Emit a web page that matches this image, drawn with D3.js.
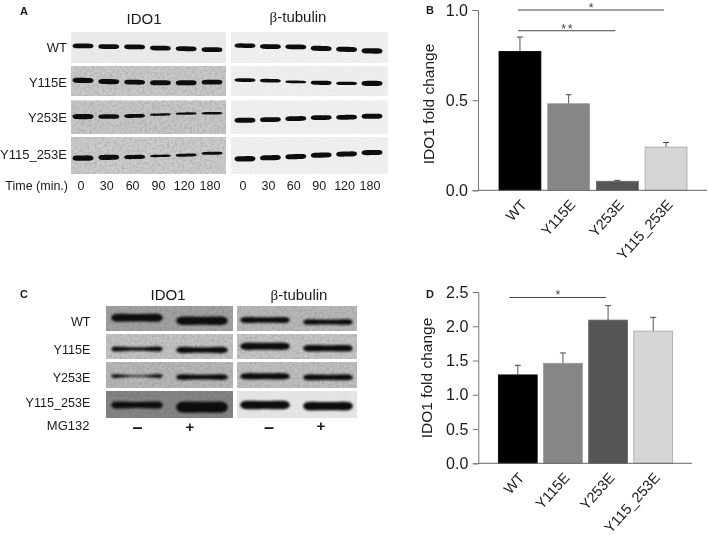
<!DOCTYPE html>
<html>
  <head>
    <meta charset="UTF-8">
    <title>IDO1 fold change</title>
    <script src="https://d3js.org/d3.v7.min.js"></script>
    <style>
      body { margin: 0; background: #fff; }
      svg { filter: blur(0.3px); }
      text { font-family: "Liberation Sans", Arial, sans-serif; fill: #1a1a1a; }
    </style>
  </head>
  <body>
    <svg id="fig" width="709" height="535" viewBox="0 0 709 535"></svg>
    <script>
      // Bar chart data
      const mutants = ["WT", "Y115E", "Y253E", "Y115_253E"];
      const valuesB = [0.77, 0.48, 0.05, 0.24];
      const errorsB = [0.08, 0.05, 0.005, 0.025];
      const valuesD = [1.29, 1.46, 2.09, 1.93];
      const errorsD = [0.14, 0.15, 0.21, 0.20];
      const ticksB = [0, 0.5, 1];
      const ticksD = [0, 0.5, 1, 1.5, 2, 2.5];
      const sigB = [["WT", "Y115_253E", 1.0, "*"], ["WT", "Y253E", 0.885, "**"]];
      const sigD = [["WT", "Y253E", 2.42, "*"]];

      // Blot A: lanes by time, band density and migration (fraction of the strip) per mutant
      const times = ["0", "30", "60", "90", "120", "180"];
      const densityA1 = [
        [.8, .8, .8, .8, .8, .8],
        [.85, .85, .8, .85, .85, .8],
        [.85, .75, .65, .4, .4, .4],
        [.9, .85, .7, .4, .5, .5]
      ];
      const migrationA1 = [
        [.45, .47, .48, .52, .54, .57],
        [.48, .52, .54, .56, .56, .54],
        [.48, .48, .46, .42, .39, .38],
        [.57, .55, .54, .51, .49, .44]
      ];
      const densityA2 = [
        [.75, .8, .8, .85, .85, .9],
        [.6, .6, .45, .7, .55, .85],
        [.85, .8, .8, .8, .8, .85],
        [.9, .85, .85, .85, .85, .85]
      ];
      const migrationA2 = [
        [.44, .47, .48, .53, .56, .61],
        [.47, .49, .53, .56, .58, .58],
        [.59, .57, .54, .51, .5, .47],
        [.59, .56, .53, .49, .46, .42]
      ];
      const backA1 = ["#ebebeb", "#cacaca", "#c8c8c8", "#cdcdcd"];
      const backA2 = ["#f1f1f1", "#efefef", "#f0f0f0", "#f0f0f0"];

      // Blot C: minus and plus MG132, density at band ends and band centre
      const treatments = ["–", "+"];
      const edgeC1 = [[.75, .75], [.55, .6], [.45, .55], [.7, .95]];
      const centreC1 = [[.55, .6], [.25, .4], [.1, .35], [.45, .8]];
      const migrationC1 = [[.47, .59], [.6, .64], [.54, .58], [.52, .6]];
      const edgeC2 = [[.55, .55], [.65, .6], [.55, .55], [.75, .75]];
      const centreC2 = [[.4, .35], [.5, .45], [.45, .4], [.6, .6]];
      const migrationC2 = [[.56, .64], [.49, .57], [.55, .59], [.52, .56]];
      const backC1 = ["#a2a2a2", "#c4c4c4", "#b8b8b8", "#858585"];
      const backC2 = ["#b9b9b9", "#c6c6c6", "#c0c0c0", "#e6e6e6"];

      const barFills = ["#000000", "#868686", "#555555", "#d5d5d5"];
      const barStrokes = ["#000000", "#9a9a9a", "#666666", "#a5a5a5"];

      const svg = d3.select("#fig");
      const defs = svg.append("defs");

      // Film grain for the blot strips
      function grainFilter(id, amount) {
        const f = defs.append("filter").attr("id", id)
          .attr("x", 0).attr("y", 0).attr("width", 1).attr("height", 1)
          .attr("color-interpolation-filters", "sRGB");
        f.append("feTurbulence").attr("type", "fractalNoise").attr("baseFrequency", 0.4)
          .attr("numOctaves", 2).attr("seed", 4).attr("result", "n");
        f.append("feColorMatrix").attr("in", "n").attr("type", "matrix")
          .attr("values", `0 0 0 0 0.25  0 0 0 0 0.25  0 0 0 0 0.25  ${amount} 0 0 0 ${-amount * 0.36}`)
          .attr("result", "g");
        const m = f.append("feMerge");
        m.append("feMergeNode").attr("in", "SourceGraphic");
        m.append("feMergeNode").attr("in", "g");
      }
      grainFilter("grain", 0.4);
      grainFilter("grainLight", 0.08);
      defs.append("filter").attr("id", "soft")
        .append("feGaussianBlur").attr("stdDeviation", 0.5);
      defs.append("filter").attr("id", "softer")
        .attr("x", "-10%").attr("y", "-50%").attr("width", "120%").attr("height", "200%")
        .append("feGaussianBlur").attr("stdDeviation", 0.9);

      const bandArea = d3.area().x(d => d.x).y0(d => d.y0).y1(d => d.y1);
      const samples = d3.range(-1, 1.001, 0.05);

      // One column of blot strips
      function drawBlot(opt) {
        const g = svg.append("g");
        const lane = d3.scalePoint().domain(opt.lanes).range(opt.laneRange);
        const thick = d3.scaleLinear().domain([0, 1]).range([0, opt.maxThick]);

        opt.rows.forEach((row, r) => {
          const y = d3.scaleLinear().domain([0, 1]).range(row);
          g.append("rect")
            .attr("x", opt.x[0]).attr("y", row[0])
            .attr("width", opt.x[1] - opt.x[0]).attr("height", row[1] - row[0])
            .attr("fill", opt.back[r])
            .attr("filter", opt.back[r] > "#e00000" ? "url(#grainLight)" : "url(#grain)");

          opt.lanes.forEach((l, i) => {
            const m = opt.migration[r];
            const prev = y(m[Math.max(i - 1, 0)]), next = y(m[Math.min(i + 1, m.length - 1)]);
            const tilt = (next - prev) / (opt.laneStep * 2) * opt.bandHalf * 0.5;
            const edge = thick(opt.density[r][i]);
            const centre = opt.centre ? thick(opt.centre[r][i]) : edge;
            const pts = samples.map(t => {
              const h = (centre + (edge - centre) * t * t) / 2 * Math.sqrt(Math.max(1 - Math.pow(Math.abs(t), 6), 0));
              const yc = y(m[i]) + (opt.centre ? 0 : tilt * t);
              return { x: lane(l) + t * opt.bandHalf, y0: yc - h, y1: yc + h };
            });
            g.append("path").attr("d", bandArea(pts))
              .attr("fill", "#111").attr("filter", opt.centre ? "url(#softer)" : "url(#soft)");
          });
        });
        return lane;
      }

      const rowsA = [[32, 63], [66, 96], [100.5, 134], [137, 174]];
      const rowsC = [[306, 331], [334, 359], [362, 388], [391, 418]];

      const laneA1 = drawBlot({ lanes: times, laneRange: [83, 212], laneStep: 26, bandHalf: 10.5, maxThick: 6,
        x: [71, 226], rows: rowsA, back: backA1, density: densityA1, migration: migrationA1 });
      const laneA2 = drawBlot({ lanes: times, laneRange: [245, 372], laneStep: 25, bandHalf: 10.5, maxThick: 6,
        x: [231, 388], rows: rowsA, back: backA2, density: densityA2, migration: migrationA2 });
      drawBlot({ lanes: treatments, laneRange: [137, 202], laneStep: 65, bandHalf: 26, maxThick: 13.5,
        x: [106, 233], rows: rowsC, back: backC1, density: edgeC1, centre: centreC1, migration: migrationC1 });
      drawBlot({ lanes: treatments, laneRange: [265, 328], laneStep: 63, bandHalf: 25, maxThick: 13.5,
        x: [237, 357], rows: rowsC, back: backC2, density: edgeC2, centre: centreC2, migration: migrationC2 });

      // Labels around the blots
      function label(x, y, str, size, anchor, weight) {
        return svg.append("text").attr("x", x).attr("y", y).text(str)
          .attr("font-size", size).attr("text-anchor", anchor || "start")
          .attr("font-weight", weight || "normal");
      }
      function tubulinTitle(x, y) {
        const t = svg.append("text").attr("x", x).attr("y", y)
          .attr("font-size", 15).attr("text-anchor", "middle");
        t.append("tspan").style("font-family", "Liberation Serif").text("β");
        t.append("tspan").text("-tubulin");
      }

      label(20, 15, "A", 11, "start", "bold");
      label(426, 14, "B", 11, "start", "bold");
      label(20, 298, "C", 11, "start", "bold");
      label(426, 298, "D", 11, "start", "bold");

      label(144, 24, "IDO1", 15, "middle");
      tubulinTitle(298, 22);
      label(168, 300, "IDO1", 15, "middle");
      tubulinTitle(299, 300);

      const rowBaseA = [51.5, 87, 122, 158.5];
      mutants.forEach((m, i) => label(67, rowBaseA[i], m, 13, "end"));
      const rowBaseC = [326, 354, 381.5, 407];
      mutants.forEach((m, i) => label(90.5, rowBaseC[i], m, 12.6, "end"));

      label(68, 190, "Time (min.)", 12.5, "end");
      times.forEach(t => {
        label(laneA1(t) - 2, 190, t, 12.5, "middle");
        label(laneA2(t) - 2, 190, t, 12.5, "middle");
      });
      label(89.5, 430, "MG132", 13, "end");
      const signC1 = d3.scalePoint().domain(treatments).range([137.5, 190]);
      const signC2 = d3.scalePoint().domain(treatments).range([269, 321]);
      treatments.forEach(t => {
        const minus = t === "–";
        label(signC1(t), minus ? 433 : 431.5, t, minus ? 18 : 15, "middle", "bold");
        label(signC2(t), minus ? 433 : 431, t, minus ? 18 : 15, "middle", "bold");
      });

      // Bar panels
      function drawBars(opt) {
        const g = svg.append("g");
        const x = d3.scaleBand().domain(mutants).range(opt.xRange)
          .paddingInner(0.14).paddingOuter(0.07);
        const y = d3.scaleLinear().domain(opt.yDomain).range(opt.yRange);

        // error bars behind the bars
        mutants.forEach((m, i) => {
          const cx = x(m) + x.bandwidth() / 2;
          g.append("line").attr("x1", cx).attr("x2", cx)
            .attr("y1", y(opt.values[i])).attr("y2", y(opt.values[i] + opt.errors[i]))
            .attr("stroke", "#555").attr("stroke-width", 1);
          g.append("line").attr("x1", cx - 3).attr("x2", cx + 3)
            .attr("y1", y(opt.values[i] + opt.errors[i])).attr("y2", y(opt.values[i] + opt.errors[i]))
            .attr("stroke", "#444").attr("stroke-width", 1);
        });

        g.selectAll("rect").data(mutants).join("rect")
          .attr("x", d => x(d))
          .attr("y", (d, i) => y(opt.values[i]))
          .attr("width", x.bandwidth())
          .attr("height", (d, i) => y(0) - y(opt.values[i]))
          .attr("fill", (d, i) => barFills[i])
          .attr("stroke", (d, i) => barStrokes[i])
          .attr("stroke-width", 0.8);

        const yAxis = g.append("g").attr("transform", `translate(${opt.axisX},0)`)
          .call(d3.axisLeft(y).tickValues(opt.ticks).tickFormat(d3.format(".1f")).tickSize(5.5).tickPadding(4.5));
        yAxis.selectAll("text").attr("font-size", 16).style("font-family", "Liberation Sans");
        yAxis.selectAll("path,line").attr("stroke", "#777");

        const xAxis = g.append("g").attr("transform", `translate(0,${y(0)})`)
          .call(d3.axisBottom(x).tickSize(0).tickPadding(0));
        xAxis.select("path").attr("d", `M${opt.axisX},0H${opt.axisEnd}`).attr("stroke", "#666");
        xAxis.selectAll("text")
          .attr("font-size", 14.5)
          .attr("text-anchor", "end")
          .attr("dy", 0).attr("y", 0)
          .style("font-family", "Liberation Sans")
          .attr("transform", "translate(7.5,15) rotate(-48)");

        opt.sig.forEach(s => {
          const x1 = x(s[0]) + x.bandwidth() / 2 + opt.sigNudge;
          const x2 = x(s[1]) + x.bandwidth() / 2 - 2;
          g.append("line").attr("x1", x1).attr("x2", x2)
            .attr("y1", y(s[2])).attr("y2", y(s[2]))
            .attr("stroke", "#444").attr("stroke-width", 1);
          g.append("text").attr("x", (x1 + x2) / 2 + 1).attr("y", y(s[2]) + 2)
            .attr("text-anchor", "middle").attr("font-size", 12.5).attr("letter-spacing", 1.5)
            .style("fill", "#444").text(s[3]);
        });

        svg.append("text")
          .attr("transform", `translate(${opt.labelX},${opt.labelY}) rotate(-90)`)
          .attr("text-anchor", "middle").attr("font-size", 15.5)
          .text("IDO1 fold change");
      }

      drawBars({ xRange: [495.6, 690.4], yDomain: [0, 1], yRange: [190.3, 10], axisX: 478, axisEnd: 707,
        values: valuesB, errors: errorsB, ticks: ticksB, sig: sigB, sigNudge: -2, labelX: 434, labelY: 104 });
      drawBars({ xRange: [495.2, 675.8], yDomain: [0, 2.5], yRange: [463.3, 292], axisX: 478.3, axisEnd: 692,
        values: valuesD, errors: errorsD, ticks: ticksD, sig: sigD, sigNudge: -8.5, labelX: 432, labelY: 378 });
    </script>
  </body>
</html>
